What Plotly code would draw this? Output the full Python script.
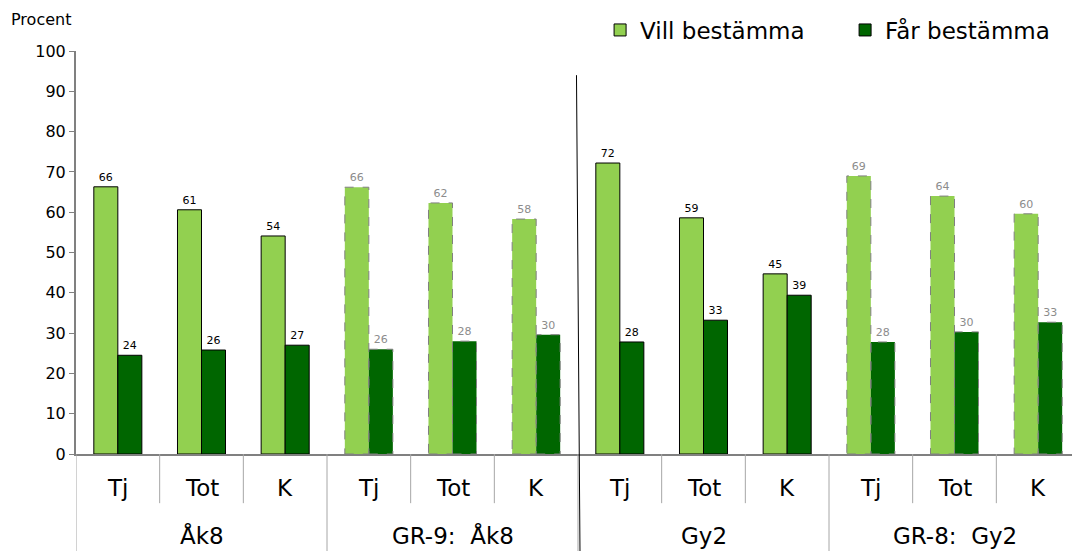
import plotly.graph_objects as go

groups = ["Åk8", "GR-9:  Åk8", "Gy2", "GR-8:  Gy2"]
subcats = ["Tj", "Tot", "K"]
vill = [66.3, 60.6, 54.1, 66.2, 62.3, 58.3, 72.2, 58.6, 44.7, 69.0, 64.0, 59.6]
far = [24.5, 25.8, 27.0, 26.0, 28.0, 29.6, 27.8, 33.2, 39.4, 27.8, 30.3, 32.7]
is_ref = [False, False, False, True, True, True, False, False, False, True, True, True]

cats = [f"{g}|{s}" for g in groups for s in subcats]
BW = 0.287

text_cols = ["#8c8c8c" if r else "#000000" for r in is_ref]
line_w = [0 if r else 1 for r in is_ref]

fig = go.Figure()
fig.add_trace(go.Bar(
    name="Vill bestämma", x=cats, y=vill, width=BW, offset=-BW,
    marker=dict(color="#92D050", line=dict(color="#000000", width=line_w)),
    text=[f"{v:.0f}" for v in vill], textposition="outside",
    textfont=dict(size=11, color=text_cols, family="DejaVu Sans"),
    cliponaxis=False,
))
fig.add_trace(go.Bar(
    name="Får bestämma", x=cats, y=far, width=BW, offset=0,
    marker=dict(color="#006600", line=dict(color="#000000", width=line_w)),
    text=[f"{v:.0f}" for v in far], textposition="outside",
    textfont=dict(size=11, color=text_cols, family="DejaVu Sans"),
    cliponaxis=False,
))

shapes = []
annotations = []
# dashed outlines for comparison (GR) bars
for i, r in enumerate(is_ref):
    if r:
        shapes.append(dict(type="rect", xref="x", yref="y", x0=i - BW, x1=i, y0=0, y1=vill[i],
                           line=dict(color="#808080", width=1, dash="dash"), fillcolor="rgba(0,0,0,0)"))
        shapes.append(dict(type="rect", xref="x", yref="y", x0=i, x1=i + BW, y0=0, y1=far[i],
                           line=dict(color="#808080", width=1, dash="dash"), fillcolor="rgba(0,0,0,0)"))

# category labels and separators
n = len(cats)
for i, c in enumerate(cats):
    annotations.append(dict(text=c.split("|")[1], xref="x", yref="paper", x=i, y=-0.085,
                            showarrow=False, font=dict(size=23), yanchor="middle"))
for gi, g in enumerate(groups):
    annotations.append(dict(text=g, xref="x", yref="paper", x=gi * 3 + 1, y=-0.203,
                            showarrow=False, font=dict(size=23), yanchor="middle"))
for k in range(n + 1):
    xpos = k - 0.5
    if k % 3 == 0:
        if k == n:
            continue
        shapes.append(dict(type="line", xref="x", yref="paper", x0=xpos, x1=xpos, y0=0, y1=-0.245,
                           line=dict(color="#a6a6a6", width=1)))
    else:
        shapes.append(dict(type="line", xref="x", yref="paper", x0=xpos, x1=xpos, y0=0, y1=-0.122,
                           line=dict(color="#a6a6a6", width=1)))

# divider between own results and comparison
shapes.append(dict(type="line", xref="paper", yref="paper", x0=0.4985, x1=0.502,
                   y0=0.94, y1=-0.25, line=dict(color="#000000", width=1)))

annotations.append(dict(text="Procent", xref="paper", yref="paper", x=-0.067, y=1.079,
                        xanchor="left", yanchor="middle", showarrow=False,
                        font=dict(size=16, family="DejaVu Sans")))

fig.update_layout(
    width=1072, height=543,
    margin=dict(l=68, r=0, t=43, b=97, autoexpand=False),
    paper_bgcolor="white", plot_bgcolor="white",
    font=dict(family="DejaVu Sans", color="#000000"),
    barmode="overlay",
    showlegend=True,
    legend=dict(orientation="h", x=0.522, xanchor="left", yref="container", y=1 - 22 / 543,
                yanchor="middle", font=dict(size=23), entrywidth=200, entrywidthmode="pixels",
                traceorder="normal", bgcolor="rgba(0,0,0,0)"),
    xaxis=dict(
        type="category", showline=True, linecolor="#808080", linewidth=2,
        showticklabels=False, ticks="", showgrid=False, range=[-0.5, n - 0.5], automargin=False,
    ),
    yaxis=dict(
        range=[0, 100], dtick=10, showline=True, linecolor="#808080", linewidth=2,
        ticks="outside", ticklen=5, tickcolor="#808080", showgrid=False,
        tickfont=dict(size=16), zeroline=False, automargin=False,
    ),
    annotations=annotations,
    shapes=shapes,
)

fig.write_html("out.html")
